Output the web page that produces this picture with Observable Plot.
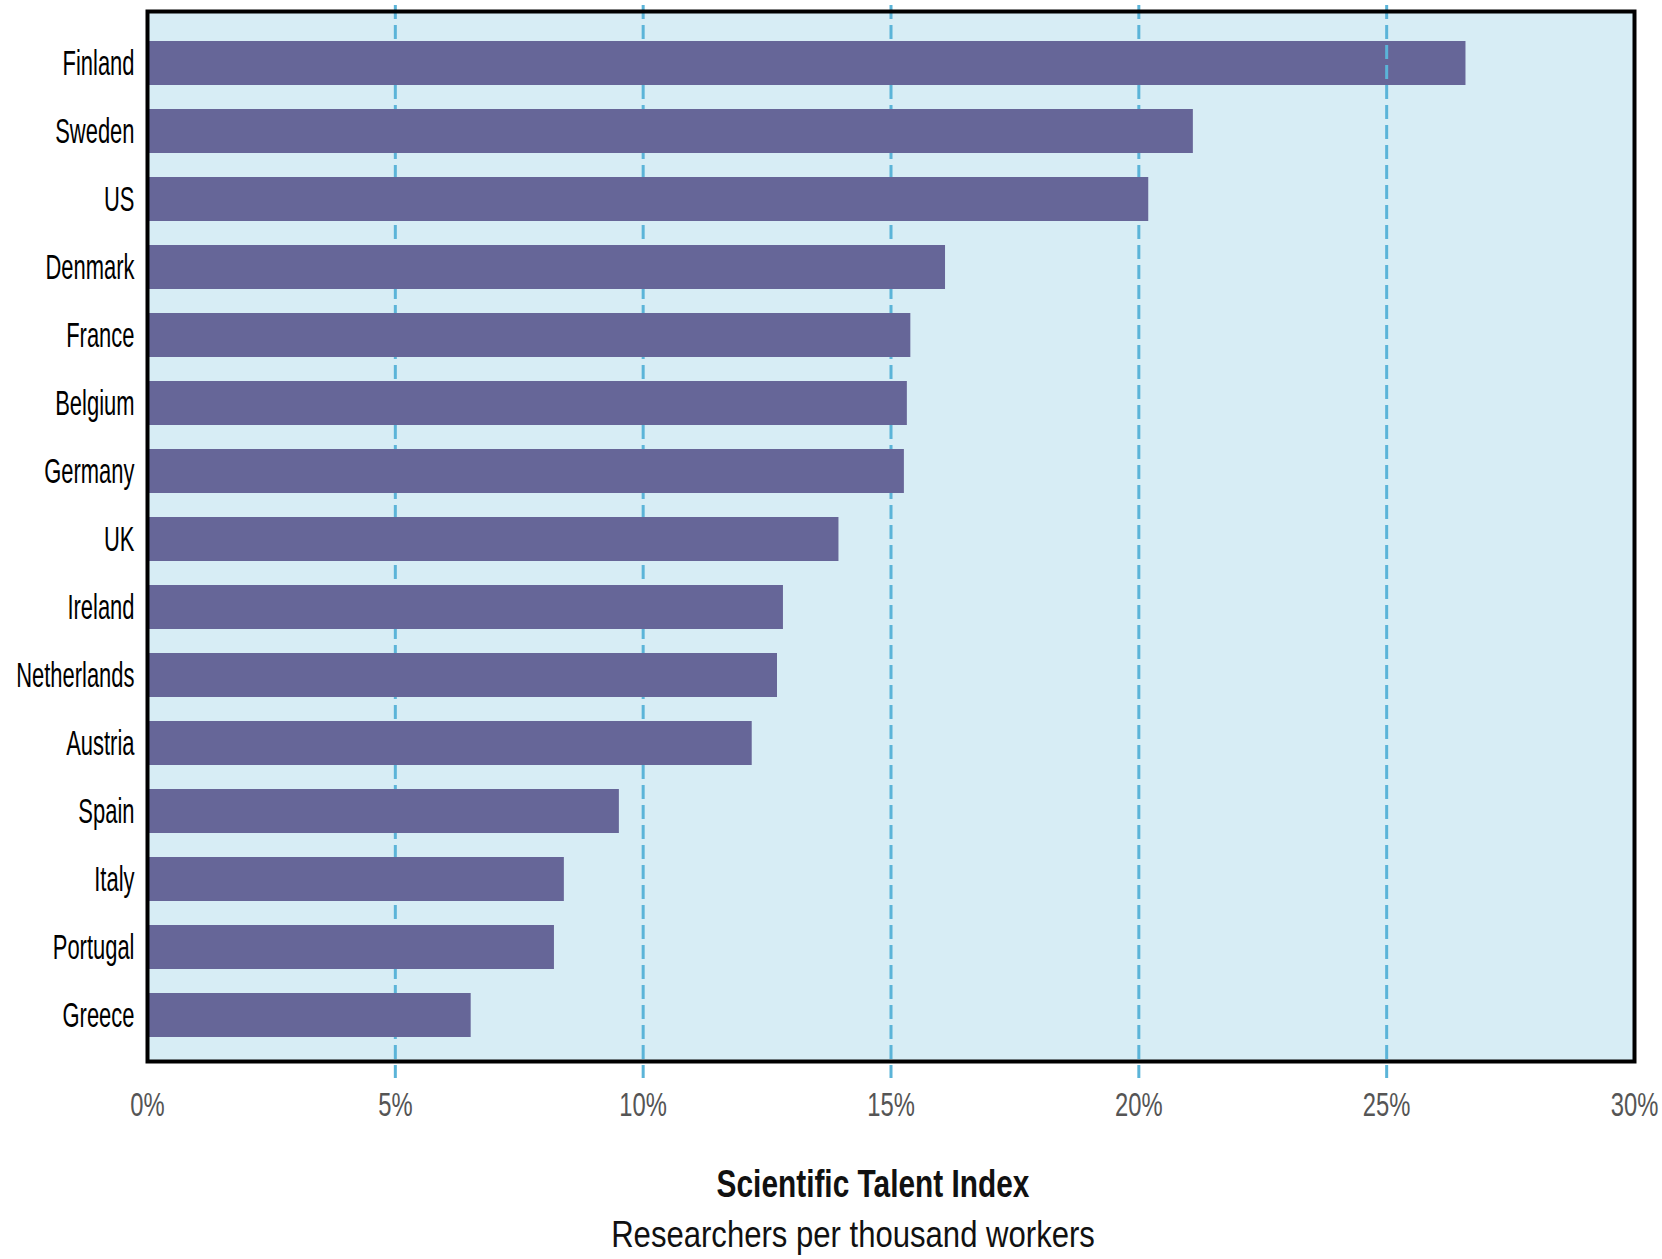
<!DOCTYPE html>
<html>
<head>
<meta charset="utf-8">
<script src="https://cdn.jsdelivr.net/npm/d3@7"></script>
<script src="https://cdn.jsdelivr.net/npm/@observablehq/plot@0.6"></script>
<style>
  html, body { margin: 0; padding: 0; background: #fff; }
  #wrap { position: relative; width: 1662px; height: 1259px; overflow: hidden; }
  .cap { position: absolute; white-space: nowrap; line-height: 1;
         font-family: "Liberation Sans", Arial, sans-serif; color: #111; }
  #t1 { top: 1164px; left: 873px; font-size: 39px; font-weight: bold; transform: translateX(-50%) scaleX(0.765); }
  #t2 { top: 1216px; left: 853px; font-size: 37px; transform: translateX(-50%) scaleX(0.84); }
</style>
</head>
<body>
<div id="wrap">
  <div id="chart"></div>
  <div class="cap" id="t1">Scientific Talent Index</div>
  <div class="cap" id="t2">Researchers per thousand workers</div>
</div>
<script>
const countries = ["Finland", "Sweden", "US", "Denmark", "France", "Belgium", "Germany", "UK",
                   "Ireland", "Netherlands", "Austria", "Spain", "Italy", "Portugal", "Greece"];
const values = [26.6, 21.1, 20.2, 16.1, 15.4, 15.33, 15.27, 13.95, 12.83, 12.71, 12.2, 9.52, 8.41, 8.21, 6.53];
const gridBelow = [5, 10, 15, 20];
const gridAbove = [25];
const xTicks = [0, 5, 10, 15, 20, 25, 30];

const data = countries.map((c, i) => ({country: c, value: values[i]}));

const gridStyle = {stroke: "#5bb4d8", strokeWidth: 3, strokeDasharray: "14,6", insetTop: -6, insetBottom: -17};

const chart = Plot.plot({
  width: 1662,
  height: 1140,
  marginLeft: 147,
  marginRight: 28,
  marginTop: 11,
  marginBottom: 79,
  style: {fontFamily: '"Liberation Sans", Arial, sans-serif', background: "white", overflow: "visible"},
  x: {domain: [0, 30]},
  y: {domain: countries, paddingInner: 0.354, paddingOuter: 0.39, align: 0.55},
  marks: [
    Plot.frame({fill: "#d7edf5"}),
    Plot.ruleX(gridBelow, gridStyle),
    Plot.barX(data, {x: "value", y: "country", fill: "#666698"}),
    Plot.ruleX(gridAbove, gridStyle),
    Plot.frame({stroke: "#000", strokeWidth: 4}),
    Plot.axisY({tickSize: 0, tickPadding: 13, fontSize: 36, fill: "#000", label: null}),
    Plot.axisX({ticks: xTicks, tickSize: 0, tickPadding: 30, tickFormat: d => d + "%", fontSize: 34, fill: "#555", label: null})
  ]
});

function squeeze(texts, s) {
  texts.forEach(t => {
    const tr = t.getAttribute("transform");
    if (tr) {
      t.setAttribute("transform", tr + ` scale(${s},1)`);
    } else {
      const x = +t.getAttribute("x") || 0, y = +t.getAttribute("y") || 0;
      t.removeAttribute("x"); t.removeAttribute("y");
      t.setAttribute("transform", `translate(${x},${y}) scale(${s},1)`);
    }
  });
}
squeeze(chart.querySelectorAll('g[aria-label="y-axis tick label"] text'), 0.61);
squeeze(chart.querySelectorAll('g[aria-label="x-axis tick label"] text'), 0.70);

document.getElementById("chart").appendChild(chart);
</script>
</body>
</html>
